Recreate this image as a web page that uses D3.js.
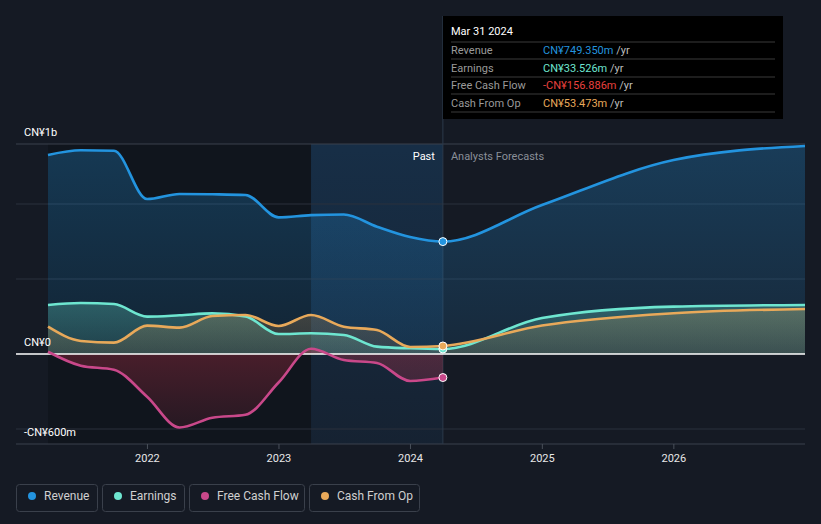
<!DOCTYPE html>
<html>
<head>
<meta charset="utf-8">
<script src="https://cdn.jsdelivr.net/npm/d3@7"></script>
<style>
  body { margin: 0; background: #151a24; }
  svg { display: block; font-family: Roboto, "Open Sans", sans-serif; }
</style>
</head>
<body>
<svg id="chart" width="821" height="524"></svg>
<script>
// quarterly trailing-twelve-month values, CN¥ millions
const past_dates = ["2021-03-31", "2021-06-30", "2021-09-30", "2021-12-31", "2022-03-31", "2022-06-30",
    "2022-09-30", "2022-12-31", "2023-03-31", "2023-06-30", "2023-09-30", "2023-12-31", "2024-03-31"];
const revenue = [1327, 1358, 1355, 1033, 1067, 1065, 1060, 911, 926, 930, 849, 780, 749.35];
const earnings = [327, 340, 333, 249, 258, 271, 251, 133, 138, 127, 49, 38, 33.526];
const free_cash_flow = [15, -78, -105, -285, -490, -425, -405, -190, 35, -40, -60, -180, -156.886];
const cash_from_op = [182, 87, 76, 189, 176, 253, 260, 187, 260, 182, 160, 47, 53.473];

// analyst forecasts (continue from last reported point)
const forecast_dates = ["2024-12-31", "2025-12-31", "2026-12-31"];
const revenue_forecast = [993, 1293, 1387];
const earnings_forecast = [240, 316, 327];
const cash_from_op_forecast = [190, 272, 300];

const x_ticks = [2022, 2023, 2024, 2025, 2026];
const y_grid = [1000, 500, -500];
const y_labels = [[1400, "CN¥1b"], [0, "CN¥0"], [-600, "-CN¥600m"]];

const tooltip_rows = [
    ["Revenue", "CN¥749.350m", "#2394df"],
    ["Earnings", "CN¥33.526m", "#6ee6d0"],
    ["Free Cash Flow", "-CN¥156.886m", "#e8413e"],
    ["Cash From Op", "CN¥53.473m", "#e8a95a"],
];

const colors = {
    revenue: "#2394df",
    earnings: "#6ee6d0",
    fcf: "#c9488a",
    cfo: "#e8a95a",
};

const parse = d3.timeParse("%Y-%m-%d");
const svg = d3.select("#chart");

const x = d3.scaleTime()
    .domain([parse("2021-03-31"), parse("2026-12-31")])
    .range([48, 805]);
const y = d3.scaleLinear().domain([-600, 1400]).range([444, 144]);

const now = parse("2024-03-31");
const band_start = parse("2023-03-31");

function series(dates, values) {
    return dates.map((d, i) => ({ date: parse(d), value: values[i] }));
}

const rev_data = series(past_dates, revenue).concat(series(forecast_dates, revenue_forecast));
const earn_data = series(past_dates, earnings).concat(series(forecast_dates, earnings_forecast));
const cfo_data = series(past_dates, cash_from_op).concat(series(forecast_dates, cash_from_op_forecast));
const fcf_data = series(past_dates, free_cash_flow);

const defs = svg.append("defs");
function gradient(id, color, top_op, bottom_op) {
    const g = defs.append("linearGradient").attr("id", id)
        .attr("x1", 0).attr("y1", 0).attr("x2", 0).attr("y2", 1);
    g.append("stop").attr("offset", "0%").attr("stop-color", color).attr("stop-opacity", top_op);
    g.append("stop").attr("offset", "100%").attr("stop-color", color).attr("stop-opacity", bottom_op);
}
gradient("g_rev", colors.revenue, 0.28, 0.12);
gradient("g_earn", colors.earnings, 0.28, 0.14);
gradient("g_cfo", colors.cfo, 0.22, 0.12);
gradient("g_fcf", "#c8324a", 0.32, 0.12);
gradient("g_band", "#1f7fd0", 0.2, 0.08);

// background panels: past darker, last year highlighted
svg.append("rect")
    .attr("x", x.range()[0]).attr("y", y(1400))
    .attr("width", x(band_start) - x.range()[0]).attr("height", y(-600) - y(1400))
    .attr("fill", "#0a0d12").attr("opacity", 0.35);
svg.append("rect")
    .attr("x", x(band_start)).attr("y", y(1400))
    .attr("width", x(now) - x(band_start)).attr("height", y(-600) - y(1400))
    .attr("fill", "url(#g_band)");

// grid
svg.selectAll(".grid").data(y_grid).join("line")
    .attr("x1", 16).attr("x2", 805)
    .attr("y1", d => y(d)).attr("y2", d => y(d))
    .attr("stroke", "#2a313c").attr("stroke-width", 1);
svg.append("line").attr("x1", 16).attr("x2", 805).attr("y1", y(1400)).attr("y2", y(1400))
    .attr("stroke", "#3a414c");
svg.append("line").attr("x1", 16).attr("x2", 805).attr("y1", y(-600)).attr("y2", y(-600))
    .attr("stroke", "#3a414c");

// vertical "now" line
svg.append("line").attr("x1", x(now)).attr("x2", x(now)).attr("y1", 16).attr("y2", 444)
    .attr("stroke", "#2c3a4a").attr("stroke-width", 1);

const area = d3.area().x(d => x(d.date)).y0(y(0)).y1(d => y(d.value)).curve(d3.curveMonotoneX);
const line = d3.line().x(d => x(d.date)).y(d => y(d.value)).curve(d3.curveMonotoneX);

svg.append("path").datum(rev_data).attr("d", area).attr("fill", "url(#g_rev)");
svg.append("path").datum(earn_data).attr("d", area).attr("fill", "url(#g_earn)");
svg.append("path").datum(cfo_data).attr("d", area).attr("fill", "url(#g_cfo)");
svg.append("path").datum(fcf_data).attr("d", area).attr("fill", "url(#g_fcf)");

// zero line
svg.append("line").attr("x1", 16).attr("x2", 805).attr("y1", y(0)).attr("y2", y(0))
    .attr("stroke", "#ffffff").attr("stroke-width", 1.5);

[[rev_data, colors.revenue], [earn_data, colors.earnings], [cfo_data, colors.cfo], [fcf_data, colors.fcf]]
    .forEach(([data, c]) => {
        svg.append("path").datum(data).attr("d", line)
            .attr("fill", "none").attr("stroke", c).attr("stroke-width", 2.6);
    });

// markers at last reported point
[[earnings, colors.earnings], [free_cash_flow, colors.fcf], [revenue, colors.revenue], [cash_from_op, colors.cfo]]
    .forEach(([vals, c]) => {
        svg.append("circle").attr("cx", x(now)).attr("cy", y(vals[vals.length - 1])).attr("r", 4)
            .attr("fill", c).attr("stroke", "#ffffff").attr("stroke-width", 1);
    });

// y labels
svg.selectAll(".ylab").data(y_labels).join("text")
    .attr("x", 24).attr("y", d => y(d[0]) - 8)
    .attr("fill", "#ffffff").attr("font-size", 11)
    .text(d => d[1]);

// x axis
const x_axis = svg.append("g");
x_ticks.forEach(yr => {
    const px = x(new Date(yr, 0, 1));
    x_axis.append("line").attr("x1", px).attr("x2", px).attr("y1", 444).attr("y2", 449)
        .attr("stroke", "#4a505a");
    x_axis.append("text").attr("x", px).attr("y", 462).attr("text-anchor", "middle")
        .attr("fill", "#e8e8e8").attr("font-size", 11).text(yr);
});

// past / forecast labels
svg.append("text").attr("x", x(now) - 8).attr("y", 160).attr("text-anchor", "end")
    .attr("fill", "#ffffff").attr("font-size", 11).text("Past");
svg.append("text").attr("x", x(now) + 8).attr("y", 160)
    .attr("fill", "#8a8f98").attr("font-size", 11).text("Analysts Forecasts");

// tooltip
const tip = svg.append("g").attr("transform", "translate(443,16)");
tip.append("rect").attr("width", 340).attr("height", 103).attr("fill", "#000000");
tip.append("text").attr("x", 8).attr("y", 19).attr("fill", "#ffffff").attr("font-size", 11)
    .text("Mar 31 2024");
const sep_y = [26, 43, 61, 78, 96];
sep_y.forEach(sy => {
    tip.append("line").attr("x1", 8).attr("x2", 332).attr("y1", sy).attr("y2", sy)
        .attr("stroke", "#3a3a3a");
});
tooltip_rows.forEach((r, i) => {
    const ty = 38 + i * 17.5;
    tip.append("text").attr("x", 8).attr("y", ty).attr("fill", "#9a9a9a").attr("font-size", 11).text(r[0]);
    const t = tip.append("text").attr("x", 100).attr("y", ty).attr("font-size", 11);
    t.append("tspan").attr("fill", r[2]).text(r[1]);
    t.append("tspan").attr("fill", "#bdbdbd").text(" /yr");
});

// legend
const legend_items = [
    ["Revenue", colors.revenue, 16, 81],
    ["Earnings", colors.earnings, 102, 82],
    ["Free Cash Flow", colors.fcf, 189, 115],
    ["Cash From Op", colors.cfo, 309, 110],
];
legend_items.forEach(([label, c, lx, w]) => {
    const g = svg.append("g").attr("transform", `translate(${lx},484)`);
    g.append("rect").attr("x", 0.5).attr("y", 0.5).attr("width", w).attr("height", 27).attr("rx", 3)
        .attr("fill", "none").attr("stroke", "#3a404b");
    g.append("circle").attr("cx", 16).attr("cy", 12).attr("r", 4).attr("fill", c);
    g.append("text").attr("x", 28).attr("y", 16).attr("fill", "#d0d0d0").attr("font-size", 12).text(label);
});
</script>
</body>
</html>
